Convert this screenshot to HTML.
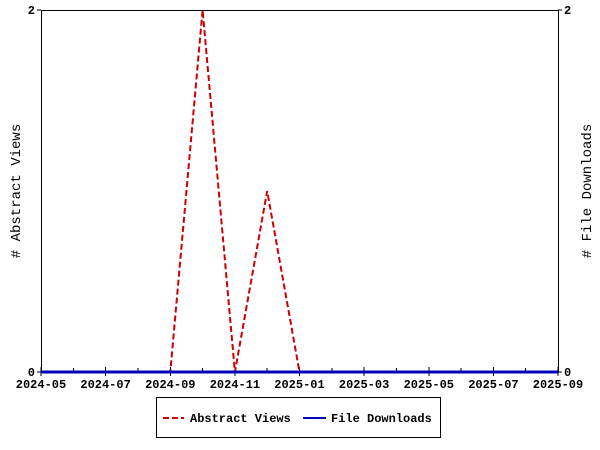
<!DOCTYPE html><html><head><style>body{margin:0;background:#fff}svg{display:block}text{font-family:"Liberation Mono","DejaVu Sans Mono",monospace;font-size:12px;font-weight:bold;fill:#000}</style></head><body>
<svg width="600" height="450" viewBox="0 0 600 450">
<rect x="41.5" y="10.5" width="517" height="362" fill="none" stroke="#000" stroke-width="1" shape-rendering="crispEdges"/>
<g stroke="#000" stroke-width="1" shape-rendering="crispEdges">
<line x1="41" y1="367" x2="41" y2="376"/><line x1="73.3" y1="368" x2="73.3" y2="372"/><line x1="105.6" y1="367" x2="105.6" y2="376"/><line x1="137.9" y1="368" x2="137.9" y2="372"/><line x1="170.3" y1="367" x2="170.3" y2="376"/><line x1="202.6" y1="368" x2="202.6" y2="372"/><line x1="234.9" y1="367" x2="234.9" y2="376"/><line x1="267.2" y1="368" x2="267.2" y2="372"/><line x1="299.5" y1="367" x2="299.5" y2="376"/><line x1="331.8" y1="368" x2="331.8" y2="372"/><line x1="364.1" y1="367" x2="364.1" y2="376"/><line x1="396.4" y1="368" x2="396.4" y2="372"/><line x1="428.8" y1="367" x2="428.8" y2="376"/><line x1="461.1" y1="368" x2="461.1" y2="372"/><line x1="493.4" y1="367" x2="493.4" y2="376"/><line x1="525.7" y1="368" x2="525.7" y2="372"/><line x1="558" y1="367" x2="558" y2="376"/>
<line x1="37" y1="10" x2="41" y2="10"/><line x1="37" y1="372" x2="41" y2="372"/><line x1="558" y1="10" x2="562" y2="10"/><line x1="558" y1="372" x2="562" y2="372"/>
</g>
<g text-anchor="middle">
<text x="41" y="388">2024-05</text><text x="105.6" y="388">2024-07</text><text x="170.3" y="388">2024-09</text><text x="234.9" y="388">2024-11</text><text x="299.5" y="388">2025-01</text><text x="364.1" y="388">2025-03</text><text x="428.8" y="388">2025-05</text><text x="493.4" y="388">2025-07</text><text x="558" y="388">2025-09</text>
</g>
<text x="35" y="14" text-anchor="end">2</text><text x="35" y="376" text-anchor="end">0</text>
<text x="564" y="14">2</text><text x="564" y="376">0</text>
<text transform="translate(20,191) rotate(-90)" text-anchor="middle" style="font-size:14px;font-weight:normal"># Abstract Views</text>
<text transform="translate(591,191) rotate(-90)" text-anchor="middle" style="font-size:14px;font-weight:normal"># File Downloads</text>
<polyline points="41,372 170.3,372 202.6,10 234.9,372 267.2,191 299.5,372" fill="none" stroke="#cc0000" stroke-width="2" stroke-dasharray="6,3"/>
<line x1="41" y1="372" x2="558" y2="372" stroke="#0000bb" stroke-width="3"/>
<rect x="156.5" y="397.5" width="284" height="40" fill="none" stroke="#000"/>
<line x1="163" y1="418" x2="184" y2="418" stroke="#cc0000" stroke-width="2" stroke-dasharray="6,3"/>
<text x="190" y="422">Abstract Views</text>
<line x1="303" y1="418" x2="326" y2="418" stroke="#0000bb" stroke-width="2"/>
<text x="331" y="422">File Downloads</text>
</svg></body></html>
